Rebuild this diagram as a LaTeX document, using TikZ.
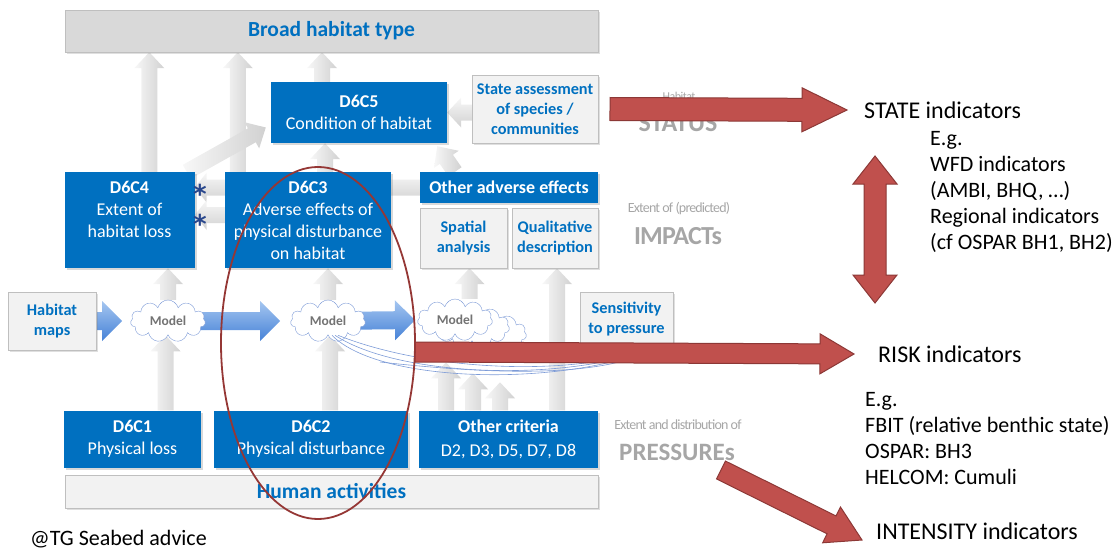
\documentclass[tikz,border=0pt]{standalone}
\usepackage{fontspec}
\setmainfont{Carlito}
\newfontfamily\starfont{DejaVu Sans}
\usetikzlibrary{calc,shapes.symbols,shadows}

\definecolor{boxblue}{RGB}{0,112,192}
\definecolor{paleg}{RGB}{242,242,242}
\definecolor{midg}{RGB}{217,217,217}
\definecolor{edgeg}{RGB}{191,191,191}
\definecolor{redfill}{RGB}{192,80,77}
\definecolor{reddraw}{RGB}{140,56,54}
\definecolor{ringred}{RGB}{149,55,53}
\definecolor{cloudblue}{RGB}{125,155,215}
\definecolor{bandtop}{RGB}{165,198,240}
\definecolor{bandbot}{RGB}{70,130,215}
\definecolor{starblue}{RGB}{40,70,140}
\definecolor{labgrey}{RGB}{166,166,166}

\pgfdeclarelayer{background}
\pgfdeclarelayer{foreground}
\pgfsetlayers{background,main,foreground}

% fat arrow: style, from, to, half shaft, half head, head length
\newcommand{\fatarrow}[6]{%
  \coordinate (hb) at ($(#3)!#6!(#2)$);
  \path[#1] ($(#2)!#4!90:(#3)$) -- ($(hb)!#4!90:(#3)$) -- ($(hb)!#5!90:(#3)$)
    -- (#3) -- ($(hb)!#5!-90:(#3)$) -- ($(hb)!#4!-90:(#3)$)
    -- ($(#2)!#4!-90:(#3)$) -- cycle;
}
% same with a head at both ends
\newcommand{\fatdarrow}[6]{%
  \coordinate (ha) at ($(#2)!#6!(#3)$);
  \coordinate (hb) at ($(#3)!#6!(#2)$);
  \path[#1] (#2) -- ($(ha)!#5!90:(#3)$) -- ($(ha)!#4!90:(#3)$) -- ($(hb)!#4!90:(#3)$)
    -- ($(hb)!#5!90:(#3)$) -- (#3) -- ($(hb)!#5!-90:(#3)$) -- ($(hb)!#4!-90:(#3)$)
    -- ($(ha)!#4!-90:(#3)$) -- ($(ha)!#5!-90:(#3)$) -- cycle;
}

\begin{document}
\begin{tikzpicture}[x=1pt,y=-1pt,
  bluebox/.style={fill=boxblue,text=white,align=center,inner sep=0pt,
    font=\fontsize{18}{22}\selectfont,
    drop shadow={shadow xshift=2pt,shadow yshift=-2pt,opacity=.3}},
  greybox/.style={fill=paleg,draw=edgeg,text=boxblue,align=center,inner sep=0pt,
    font=\bfseries\fontsize{16.3}{20}\selectfont,
    drop shadow={shadow xshift=2pt,shadow yshift=-2pt,opacity=.25}},
  model/.style={cloud,cloud puffs=11,aspect=1.8,draw=cloudblue,fill=white,
    inner sep=0pt,minimum width=75pt,minimum height=42pt,
    font=\bfseries\fontsize{13.5}{15}\selectfont,text=black!55},
  vgrey/.style={left color=white!97!black,right color=black!18},
  hgrey/.style={top color=white!97!black,bottom color=black!18},
  band/.style={top color=bandtop,bottom color=bandbot},
  redarrow/.style={fill=redfill,draw=reddraw,line width=1pt,line join=miter},
  note/.style={inner sep=0pt,anchor=west,align=left,font=\fontsize{22}{26}\selectfont},
  faint/.style={inner sep=0pt,text=labgrey},
  astx/.style={inner sep=0pt,text=starblue,font=\starfont\bfseries\fontsize{26}{26}\selectfont},
  wire/.style={draw=cloudblue,line width=.6pt}]
\useasboundingbox (0,0) rectangle (1116,551);

% boxes
\node[greybox,fill=midg,minimum width=533pt,minimum height=42pt,
  font=\bfseries\fontsize{21.5}{24}\selectfont] (broad) at (331.5,31) {Broad habitat type};
\node[bluebox,minimum width=176pt,minimum height=61pt] (d6c5) at (359,112.5)
  {\textbf{D6C5}\\Condition of habitat};
\node[greybox,minimum width=126pt,minimum height=68pt] (sabox) at (535,109)
  {State assessment\\of species /\\communities};
\node[bluebox,minimum width=130pt,minimum height=96pt] (d6c4) at (129.5,220)
  {\textbf{D6C4}\\Extent of\\habitat loss\\\mbox{}};
\node[bluebox,minimum width=166pt,minimum height=96pt] (d6c3) at (308,220)
  {\textbf{D6C3}\\Adverse effects of\\physical disturbance\\on habitat};
\node[bluebox,minimum width=178pt,minimum height=31pt,
  font=\bfseries\fontsize{18}{20}\selectfont] (oae) at (509,187.5) {Other adverse effects};
\node[greybox,minimum width=87pt,minimum height=60pt] (spatial) at (463.5,238) {Spatial\\analysis};
\node[greybox,minimum width=86pt,minimum height=60pt] (qual) at (555,238) {Qualitative\\description};
\node[greybox,minimum width=88pt,minimum height=58pt] (hmaps) at (52,321) {Habitat\\maps};
\node[greybox,minimum width=93pt,minimum height=54pt] (sens) at (626.5,319) {Sensitivity\\to pressure};
\node[bluebox,minimum width=137pt,minimum height=57pt] (d6c1) at (132.5,439)
  {\textbf{D6C1}\\Physical loss};
\node[bluebox,minimum width=194pt,minimum height=57pt] (d6c2) at (311,439)
  {\textbf{D6C2}\\Physical disturbance};
\node[bluebox,minimum width=179pt,minimum height=57pt] (oc) at (508.5,439)
  {\textbf{Other criteria}\\[2pt]D2, D3, D5, D7, D8};
\node[greybox,minimum width=533pt,minimum height=33pt,
  font=\bfseries\fontsize{21.5}{24}\selectfont] (human) at (331.5,491.5) {Human activities};

% model clouds
\node[model] (cl3c) at (489,334) {};
\node[model] (cl3b) at (472,327) {};
\node[model] (cl1) at (168,321) {Model};
\node[model] (cl2) at (328,321) {Model};
\node[model] (cl3) at (455,320) {Model};

% asterisks
\node[astx] (ast1) at (200,194) {*};
\node[astx] (ast2) at (200,224) {*};

% grey arrows behind the boxes
\coordinate (a1s) at ([xshift=85pt]d6c4.north west);
\coordinate (a1e) at (a1s |- broad.south);
\coordinate (a2s) at ([xshift=13pt]d6c3.north west);
\coordinate (a2e) at (a2s |- broad.south);
\coordinate (a3s) at ([xshift=-37pt]d6c5.north);
\coordinate (a3e) at (a3s |- broad.south);
\coordinate (a4s) at ([xshift=-8pt]d6c4.north east);
\coordinate (a4e) at ([shift={(-5pt,-15pt)}]d6c5.west);
\coordinate (a5s) at ([xshift=17pt]d6c3.north);
\coordinate (a5e) at (a5s |- d6c5.south);
\coordinate (a6s) at ([xshift=-54pt]oae.north);
\coordinate (a6e) at ([shift={(-10pt,-3pt)}]d6c5.south east);
\coordinate (a7s) at (sabox.west |- d6c5.east);
\coordinate (a8e) at (d6c4.east |- oae.west);
\coordinate (a9s) at ([yshift=5pt]d6c3.west);
\coordinate (a9e) at (d6c4.east |- a9s);
\coordinate (b1s) at ([xshift=33pt]d6c1.north);
\coordinate (b1e) at (b1s |- cl1.south);
\coordinate (b2e) at (cl1.north |- d6c4.south);
\coordinate (b3s) at ([xshift=19pt]d6c2.north);
\coordinate (b3e) at (b3s |- cl2.south);
\coordinate (b4e) at (cl2.north |- d6c3.south);
\coordinate (b5e) at ([xshift=6pt]spatial.south);
\coordinate (b5s) at (b5e |- cl3.north);
\coordinate (b6s) at ([xshift=-62.5pt]oc.north);
\coordinate (b6e) at ([yshift=48pt]b6s);
\coordinate (b7s) at ([xshift=-35.5pt]oc.north);
\coordinate (b7e) at ([yshift=37pt]b7s);
\coordinate (b8s) at ([xshift=-8.5pt]oc.north);
\coordinate (b8e) at ([yshift=28pt]b8s);
\coordinate (b9s) at ([xshift=48.5pt]oc.north);
\coordinate (b9e) at (b9s |- qual.south);
\begin{pgfonlayer}{background}
  \fatarrow{vgrey}{a1s}{a1e}{8pt}{15pt}{16pt}
  \fatarrow{vgrey}{a2s}{a2e}{8pt}{15pt}{16pt}
  \fatarrow{vgrey}{a3s}{a3e}{8pt}{15pt}{16pt}
  \fatarrow{vgrey}{a4s}{a4e}{8pt}{15pt}{16pt}
  \fatarrow{vgrey}{a5s}{a5e}{8pt}{15pt}{16pt}
  \fatarrow{vgrey}{a6s}{a6e}{8pt}{15pt}{16pt}
  \fatarrow{hgrey}{a7s}{d6c5.east}{8pt}{15pt}{14pt}
  \fatarrow{hgrey}{oae.west}{a8e}{8pt}{15pt}{12pt}
  \fatarrow{hgrey}{a9s}{a9e}{8pt}{15pt}{12pt}
  \fatarrow{vgrey}{b1s}{b1e}{8pt}{15pt}{16pt}
  \fatarrow{vgrey}{cl1.north}{b2e}{8pt}{15pt}{16pt}
  \fatarrow{vgrey}{b3s}{b3e}{8pt}{15pt}{16pt}
  \fatarrow{vgrey}{cl2.north}{b4e}{8pt}{15pt}{16pt}
  \fatarrow{vgrey}{b5s}{b5e}{8pt}{15pt}{16pt}
  \fatarrow{vgrey}{b6s}{b6e}{8pt}{15pt}{16pt}
  \fatarrow{vgrey}{b7s}{b7e}{8pt}{15pt}{16pt}
  \fatarrow{vgrey}{b8s}{b8e}{8pt}{15pt}{16pt}
  \fatarrow{vgrey}{b9s}{b9e}{8pt}{15pt}{16pt}
  % blue band through the models
  \coordinate (m1) at ([xshift=26pt]hmaps.east);
  \coordinate (m2) at ([xshift=-48pt]cl2.center);
  \coordinate (m3) at ([xshift=-40pt]cl3.center);
  \fatarrow{band}{hmaps.east}{m1}{9pt}{20pt}{20pt}
  \fatarrow{band}{cl1.center}{m2}{9pt}{20pt}{20pt}
  \fatarrow{band}{cl2.center}{m3}{9pt}{20pt}{20pt}
\end{pgfonlayer}

% thin lines from the model
\draw[wire] ([xshift=4pt]cl2.south) .. controls (380,384) and (560,386) .. (650,350);
\draw[wire] ([xshift=7pt]cl2.south) .. controls (400,378) and (570,382) .. (655,347);
\draw[wire] ([xshift=10pt]cl2.south) .. controls (430,372) and (580,378) .. (660,345);
\draw[wire] (380,362) .. controls (470,372) and (590,380) .. (648,352);

% faint side labels
\node[faint,font=\fontsize{12}{14}\selectfont\addfontfeatures{LetterSpace=-4}] (hablab) at (679,96) {Habitat};
\node[faint,font=\bfseries\fontsize{26}{28}\selectfont] (statuslab) at (678,123) {STATUS};
\node[faint,font=\fontsize{14}{16}\selectfont\addfontfeatures{LetterSpace=-6}] (implab) at (679,209) {Extent of (predicted)};
\node[faint,font=\bfseries\fontsize{26}{28}\selectfont\addfontfeatures{LetterSpace=-3}] (impacts) at (678,236) {IMPACTs};
\node[faint,font=\fontsize{14}{16}\selectfont\addfontfeatures{LetterSpace=-6}] (prelab) at (678,425) {Extent and distribution of};
\node[faint,font=\bfseries\fontsize{25}{28}\selectfont] (pressures) at (677,452) {PRESSUREs};

% indicator texts
\node[note,font=\fontsize{24}{26}\selectfont] (stateind) at (864,110) {STATE indicators};
\node[note] (stateeg) at (930,191.5) {E.g.\\WFD indicators\\(AMBI, BHQ, …)\\Regional indicators\\(cf OSPAR BH1, BH2)};
\node[note,font=\fontsize{24}{26}\selectfont] (riskind) at (878,354) {RISK indicators};
\node[note] (riskeg) at (865,439) {E.g.\\FBIT (relative benthic state)\\OSPAR: BH3\\HELCOM: Cumuli};
\node[note,font=\fontsize{24}{26}\selectfont] (intind) at (876,531) {INTENSITY indicators};
\node[note,font=\fontsize{22}{24}\selectfont] (credit) at (30,539) {@TG Seabed advice};

% big red arrows
\coordinate (r1s) at (610,109);
\coordinate (r1e) at ([xshift=-17pt]stateind.west);
\coordinate (r2s) at (875,156);
\coordinate (r2e) at (875,303);
\coordinate (r3s) at (415,352);
\coordinate (r3e) at ([xshift=-24pt]riskind.west);
\coordinate (r4s) at (721,470);
\coordinate (r4e) at ([shift={(-14pt,-9pt)}]intind.west);
\fatarrow{redarrow}{r1s}{r1e}{11.5pt}{22pt}{45pt}
\fatdarrow{redarrow}{r2s}{r2e}{11pt}{22pt}{28pt}
\fatarrow{redarrow}{r3s}{r3e}{10pt}{20pt}{34pt}
\fatarrow{redarrow}{r4s}{r4e}{10pt}{20pt}{34pt}

% ring round D6C2 / D6C3
\begin{pgfonlayer}{foreground}
  \draw[ringred,line width=1.8pt] (318,343) ellipse [x radius=97pt,y radius=176pt];
\end{pgfonlayer}
\end{tikzpicture}
\end{document}
